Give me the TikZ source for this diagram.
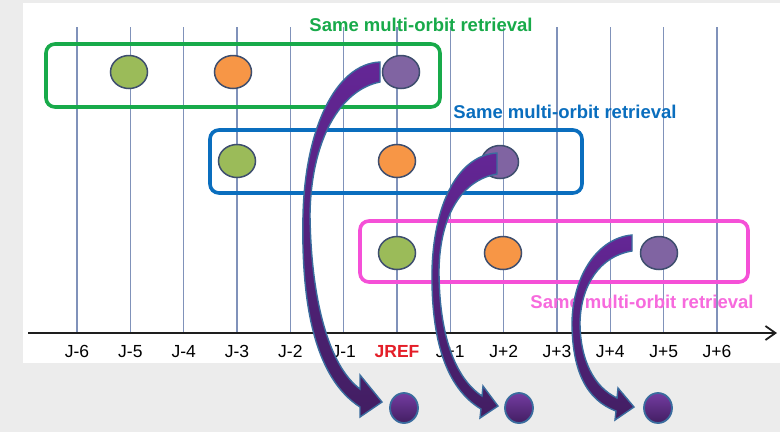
\documentclass[tikz,border=0pt]{standalone}
\usepackage{fontspec}
\setmainfont{Liberation Sans}
\usepackage{tikz}
\usetikzlibrary{arrows.meta, positioning, shapes.geometric}

\definecolor{panelgray}{RGB}{236,236,236}
\definecolor{gridblue}{RGB}{128,146,186}
\definecolor{axisblack}{RGB}{30,30,30}
\definecolor{retrgreen}{RGB}{24,170,74}
\definecolor{retrblue}{RGB}{10,110,190}
\definecolor{retrpink}{RGB}{245,80,215}
\definecolor{obsolive}{RGB}{155,187,89}
\definecolor{obsorange}{RGB}{247,150,70}
\definecolor{obspurple}{RGB}{128,100,162}
\definecolor{obsedge}{RGB}{62,78,110}
\definecolor{arrowedge}{RGB}{58,108,158}
\definecolor{arrowtop}{RGB}{100,38,150}
\definecolor{arrowbot}{RGB}{66,30,98}
\definecolor{refred}{RGB}{228,30,40}

\tikzset{
  gridline/.style={draw=gridblue, line width=1.1pt},
  retrbox/.style={rounded corners=9pt, line width=3.6pt},
  retrlabel/.style={font=\bfseries\fontsize{18.5}{20}\selectfont, inner sep=0pt},
  ticklabel/.style={font=\fontsize{17.5}{18}\selectfont, anchor=base, inner sep=0pt},
  obs/.style={ellipse, draw=obsedge, line width=1.5pt, minimum width=37pt,
    minimum height=33pt, inner sep=0pt},
  result/.style={ellipse, draw=arrowedge, line width=1.8pt, minimum width=28pt,
    minimum height=30pt, inner sep=0pt, top color=arrowtop!90!white, bottom color=arrowbot},
  bigarrow/.style={draw=arrowedge, line width=1.4pt, line join=miter,
    top color=arrowtop, bottom color=arrowbot},
}

\begin{document}
\begin{tikzpicture}[x=1pt, y=-1pt]
  \def\xref{397}
  \def\dx{53.33}
  \useasboundingbox (0,0) rectangle (780,432);

  % Background and panel
  \fill[panelgray] (0,0) rectangle (780,432);
  \fill[white] (23,3) rectangle (780,363);

  % Day lines
  \foreach \i in {-6,...,6} {
    \draw[gridline] ({\xref+\i*\dx}, 27) -- ({\xref+\i*\dx}, 333);
  }

  % Time axis
  \coordinate (axstart) at (28,333);
  \coordinate (axend) at (777,333);
  \draw[axisblack, line width=1.8pt, -{Straight Barb[length=10pt, width=14pt]}]
    (axstart) -- (axend);

  % Day labels
  \foreach \i/\lbl in {-6/J-6, -5/J-5, -4/J-4, -3/J-3, -2/J-2, -1/J-1,
                       1/J+1, 2/J+2, 3/J+3, 4/J+4, 5/J+5, 6/J+6} {
    \node[ticklabel] (t\i) at ({\xref+\i*\dx}, 357) {\lbl};
  }
  \node[ticklabel, font=\bfseries\fontsize{17.5}{18}\selectfont, text=refred]
    (t0) at (\xref, 357) {JREF};

  % Retrieval windows
  \draw[retrbox, retrgreen] (46,44) rectangle (440,107);
  \draw[retrbox, retrblue] (210,130) rectangle (582,193);
  \draw[retrbox, retrpink] (360,221) rectangle (748,282);

  \node[retrlabel, text=retrgreen] (gtext) at (421,25) {Same multi-orbit retrieval};
  \node[retrlabel, text=retrblue] (btext) at (565,112) {Same multi-orbit retrieval};
  \node[retrlabel, text=retrpink!85] (mtext) at (642,302) {Same multi-orbit retrieval};

  % Observations
  \node[obs, fill=obsolive] (g1) at (129,72) {};
  \node[obs, fill=obsorange] (g2) at (233,72) {};
  \node[obs, fill=obspurple] (g3) at (401,72) {};
  \node[obs, fill=obsolive] (b1) at (237,161) {};
  \node[obs, fill=obsorange] (b2) at (397,161) {};
  \node[obs, fill=obspurple] (b3) at (500,162) {};
  \node[obs, fill=obsolive] (m1) at (397,253) {};
  \node[obs, fill=obsorange] (m2) at (503,253) {};
  \node[obs, fill=obspurple] (m3) at (659,253) {};

  % Curved arrows
  \path[bigarrow] (380,62) .. controls (335,64) and (305,130) .. (303,215)
    .. controls (301,305) and (315,378) .. (360,407) -- (360,417) -- (382,402)
    -- (360,375) -- (360,389) .. controls (329,366) and (311,300) .. (310,215)
    .. controls (311,140) and (340,90) .. (380,82) -- cycle;
  \path[bigarrow] (497,153) .. controls (460,155) and (434,200) .. (432,270)
    .. controls (431,340) and (446,388) .. (481,409) -- (480,418) -- (498,406)
    -- (483,386) -- (482,396) .. controls (455,378) and (439,335) .. (439,270)
    .. controls (440,215) and (462,180) .. (497,174) -- cycle;
  \path[bigarrow] (632,235) .. controls (598,238) and (573,275) .. (572,322)
    .. controls (572,370) and (586,400) .. (616,411) -- (615,420) -- (634,407)
    -- (618,388) -- (617,398) .. controls (594,387) and (580,360) .. (580,322)
    .. controls (581,285) and (600,256) .. (632,251) -- cycle;

  % Results
  \node[result] (r1) at (404,408) {};
  \node[result] (r2) at (519,408) {};
  \node[result] (r3) at (658,408) {};

\end{tikzpicture}
\end{document}
